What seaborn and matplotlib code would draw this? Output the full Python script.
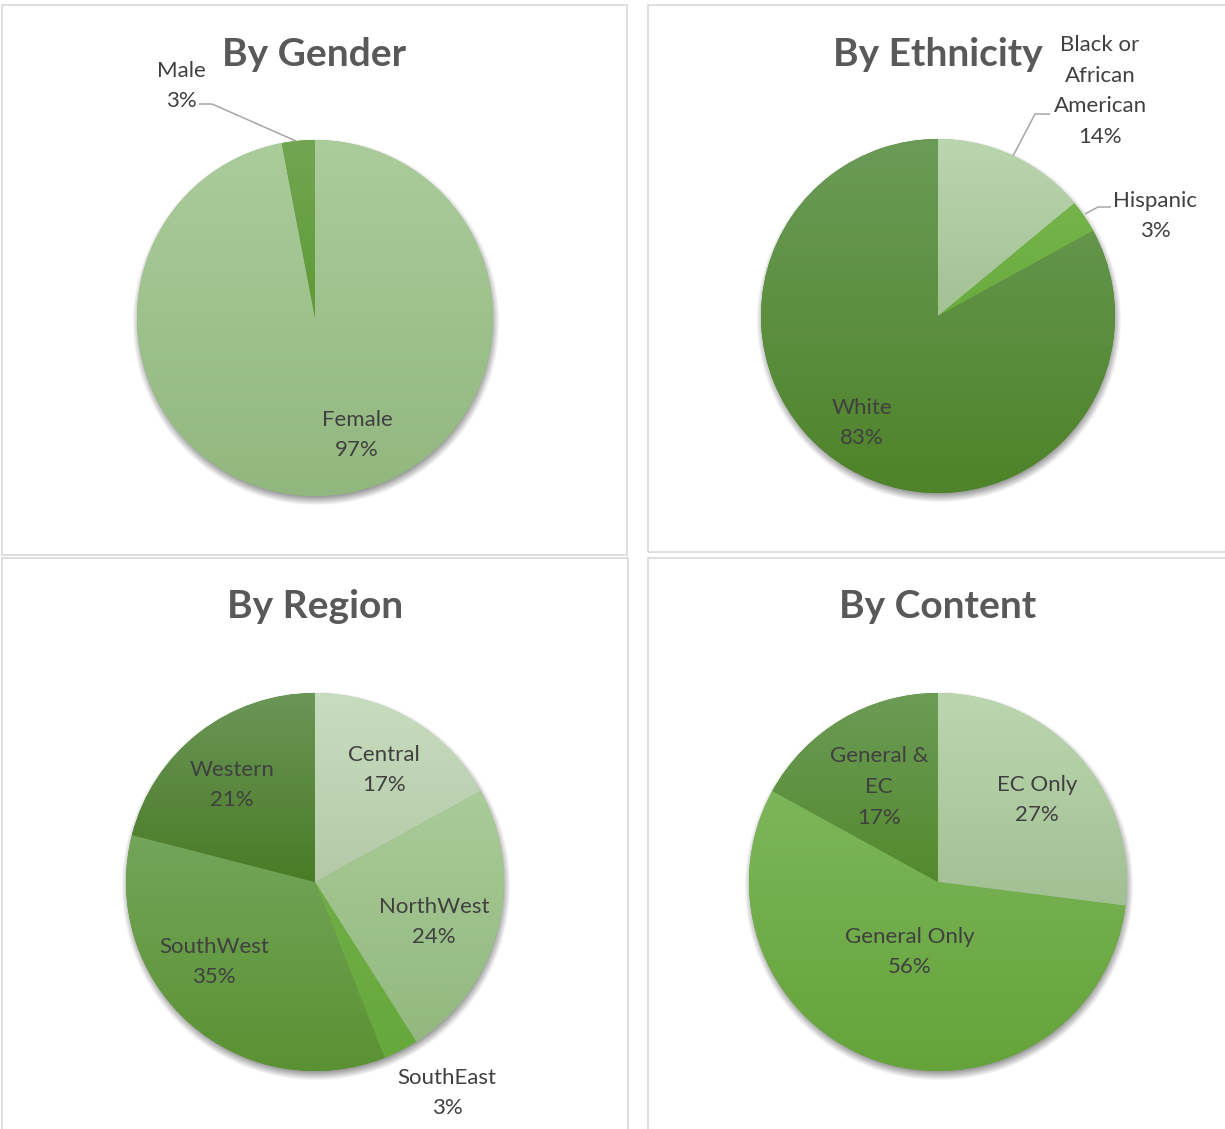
import numpy as np
import matplotlib
matplotlib.use("Agg")
import matplotlib.pyplot as plt
import seaborn as sns
from matplotlib.colors import to_rgb
from matplotlib.patches import Rectangle

# ---- data -------------------------------------------------------------
gender_labels = ["Female", "Male"]
gender_values = [97, 3]

ethnicity_labels = ["Black or\nAfrican\nAmerican", "Hispanic", "White"]
ethnicity_values = [14, 3, 83]

region_labels = ["Central", "NorthWest", "SouthEast", "SouthWest", "Western"]
region_values = [17, 24, 3, 35, 21]

content_labels = ["EC Only", "General Only", "General &\nEC"]
content_values = [27, 56, 17]

# ---- styling ------------------------------------------------------------
sns.set_theme(style="white")
plt.rcParams["font.family"] = ["Lato", "DejaVu Sans"]

W, H = 1225, 1129
TITLE_COLOR = "#595959"
LABEL_COLOR = "#404040"
LEADER_COLOR = "#a6a6a6"
BORDER_COLOR = "#d9d9d9"

# (top, bottom) gradient colours for each slice
gender_colors = [("#abcc9b", "#92b77e"), ("#72a552", "#5e9b36")]
ethnicity_colors = [("#bbd5af", "#a2c194"), ("#74b44a", "#6aab3e"),
                    ("#6b9b57", "#4e8329")]
region_colors = [("#c8ddbf", "#b3c9a7"), ("#a9cb98", "#93b87f"),
                 ("#70ae46", "#66a83b"), ("#73a55a", "#5a9233"),
                 ("#6a9657", "#4a7b26")]
content_colors = [("#bcd6b0", "#a1c092"), ("#7cb65a", "#65a33a"),
                  ("#6c9b56", "#538a2e")]

fig = plt.figure(figsize=(W / 100, H / 100), dpi=100)
ax = fig.add_axes([0, 0, 1, 1])


def Y(py):
    """Convert a top-down pixel row into the axes' bottom-up coordinate."""
    return H - py


def shadow(cx, cy, r):
    """Soft drop shadow beneath a pie."""
    pad = 20
    xs = np.arange(cx - r - pad, cx + r + pad)
    ys = np.arange(cy - r - pad, cy + r + pad)
    gx, gy = np.meshgrid(xs, ys)
    d = np.hypot(gx - (cx + 1), gy - (cy - 4))
    a = 0.5 * np.clip(1 - (d - (r - 3)) / 9.0, 0, 1)
    img = np.zeros(gx.shape + (4,))
    img[..., :3] = 0.22
    img[..., 3] = a
    ax.imshow(img, extent=(xs[0], xs[-1], ys[0], ys[-1]), origin="lower",
              aspect="auto", zorder=1, interpolation="bilinear")


def draw_pie(values, labels, colors, cx, cy, r, label_pos):
    cyd = Y(cy)
    shadow(cx, cyd, r)
    wedges, _ = ax.pie(values, startangle=90, counterclock=False,
                       center=(cx, cyd), radius=r,
                       colors=[c[1] for c in colors],
                       wedgeprops=dict(linewidth=0, zorder=2))
    for w, (ctop, cbot) in zip(wedges, colors):
        ext = w.get_path().get_extents()
        t = np.linspace(0, 1, 256)[:, None, None]
        img = (1 - t) * np.array(to_rgb(ctop)) + t * np.array(to_rgb(cbot))
        img = np.repeat(img, 2, axis=1)
        im = ax.imshow(img, extent=(ext.x0, ext.x1, ext.y0, ext.y1),
                       origin="upper", aspect="auto", zorder=3,
                       interpolation="bilinear")
        im.set_clip_path(w)
    for lab, v, (px, py) in zip(labels, values, label_pos):
        ax.text(px, Y(py), f"{lab}\n{v}%", ha="center", va="center",
                multialignment="center", fontsize=16, color=LABEL_COLOR,
                linespacing=1.66, zorder=5)


def title(text, px, py):
    ax.text(px, Y(py), text, ha="center", va="center", fontsize=28,
            fontweight="bold", color=TITLE_COLOR, zorder=5)


def leader(points):
    xs = [p[0] for p in points]
    ys = [Y(p[1]) for p in points]
    ax.plot(xs, ys, color=LEADER_COLOR, lw=1.1, zorder=4,
            solid_capstyle="butt")


# ---- panel frames -------------------------------------------------------
frames = [
    (2, 5.3, 626.5, 554.7),
    (648, 5.3, 1260, 552.3),
    (2, 557.5, 628, 1160),
    (648, 557.5, 1260, 1160),
]
for x0, y0, x1, y1 in frames:
    ax.add_patch(Rectangle((x0, Y(y1)), x1 - x0, y1 - y0, fill=False,
                           edgecolor=BORDER_COLOR, lw=1.2, zorder=0.5))

# ---- By Gender ----------------------------------------------------------
draw_pie(gender_values, gender_labels, gender_colors, 315, 318, 178,
         [(357, 435), (181, 86)])
title("By Gender", 314, 54)
leader([(199, 104), (212, 104), (296, 141)])

# ---- By Ethnicity -------------------------------------------------------
draw_pie(ethnicity_values, ethnicity_labels, ethnicity_colors, 938, 316, 177,
         [(1100, 91), (1155, 216), (862, 423)])
title("By Ethnicity", 938, 54)
leader([(1013, 156), (1035, 114), (1050, 114)])
leader([(1085, 214), (1098, 207), (1111, 207)])

# ---- By Region ----------------------------------------------------------
draw_pie(region_values, region_labels, region_colors, 315, 882, 189,
         [(384, 770), (434, 922), (447, 1093), (214, 962), (232, 785)])
title("By Region", 315, 606)

# ---- By Content ---------------------------------------------------------
draw_pie(content_values, content_labels, content_colors, 938, 882, 189,
         [(1037, 800), (910, 952), (879, 787)])
title("By Content", 938, 606)

ax.set_xlim(0, W)
ax.set_ylim(0, H)
ax.set_aspect("auto")
ax.axis("off")

fig.savefig("out.png", dpi=100, facecolor="white")
